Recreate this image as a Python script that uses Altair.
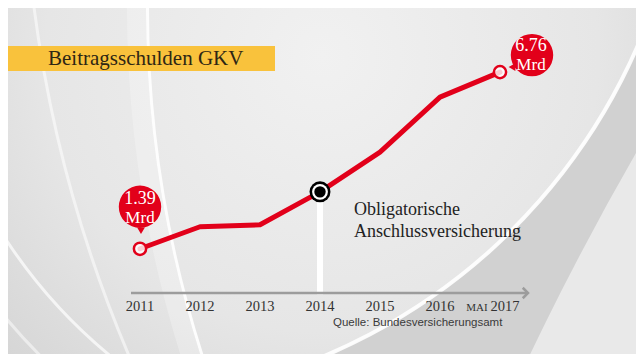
import altair as alt
import pandas as pd

# ---- data ----
years = [2011, 2012, 2013, 2014, 2015, 2016, 2017]
values = [1.39, 2.06, 2.12, 3.12, 4.33, 6.00, 6.76]
year_labels = ["2011", "2012", "2013", "2014", "2015", "2016", "2017"]
month_prefix = "MAI"
title_text = "Beitragsschulden GKV"
bubble_first = ["1.39", "Mrd"]
bubble_last = ["6.76", "Mrd"]
annotation = ["Obligatorische", "Anschlussversicherung"]
source_text = "Quelle: Bundesversicherungsamt"
event_year = 2014

df = pd.DataFrame({"year": years, "value": values, "label": year_labels})

W, H = 628, 346
RED = "#e2001a"
GRAY = "#9c9c9c"
SERIF = "'Liberation Serif', 'DejaVu Serif', serif"
SANS = "'Liberation Sans', 'DejaVu Sans', sans-serif"

xs = alt.Scale(domain=[2011, 2017], range=[132, 492])
ys = alt.Scale(domain=[0, 7], range=[286.5, 56.2])
X = alt.X("year:Q", scale=xs, axis=None)
Y = alt.Y("value:Q", scale=ys, axis=None)

one = alt.Data(values=[{}])
base = alt.Chart(df)

# ---- background ----
bg = alt.Chart(one).mark_rect(
    color=alt.Gradient(
        gradient="radial",
        stops=[
            alt.GradientStop(color="#f1f1f1", offset=0),
            alt.GradientStop(color="#e6e6e6", offset=0.55),
            alt.GradientStop(color="#cfcfcf", offset=1),
        ],
        x1=0.5, y1=0.3, r1=0, x2=0.5, y2=0.3, r2=0.8,
    )
).encode(x=alt.value(0), x2=alt.value(W), y=alt.value(0), y2=alt.value(H))

def arc(cx, cy, r, r2, t1, t2, color, op):
    return alt.Chart(one).mark_arc(color=color, opacity=op).encode(
        x=alt.value(cx), y=alt.value(cy),
        radius=alt.value(r), radius2=alt.value(r2),
        theta=alt.value(t1), theta2=alt.value(t2),
    )

decor = [
    # right gray band, the light region beyond it and the highlight edge
    arc(85.7, -198.3, 594, 1300, 1.80, 2.78, "#d1d1d1", 1),
    arc(3228, 1642, 0, 3000, 0, 6.2831, "#e9e9e9", 1),
    arc(85.7, -198.3, 591, 595, 1.80, 2.78, "white", 0.9),
    # left streaks
    arc(1291, -3, 1150, 1153, 4.40, 4.76, "white", 0.9),
    arc(1291, -3, 1153, 1172, 4.40, 4.76, "white", 0.25),
    arc(1355, -176, 1339, 1342, 4.25, 4.62, "white", 0.55),
    arc(440, -60, 528, 531, 3.75, 4.20, "white", 0.7),
    arc(440, -60, 575, 578, 3.75, 4.15, "white", 0.5),
]

# ---- title band ----
band = alt.Chart(one).mark_rect(color="#f9c23c").encode(
    x=alt.value(0), x2=alt.value(267), y=alt.value(38), y2=alt.value(63)
)
title = alt.Chart(one).mark_text(
    align="left", baseline="middle", font=SERIF, fontSize=21, color="#2e2614"
).encode(x=alt.value(40), y=alt.value(51), text=alt.value(title_text))

# ---- white event bar ----
event = base.transform_filter(alt.datum.year == event_year)
bar = event.mark_rule(color="white", strokeWidth=6).encode(x=X, y=Y, y2=alt.datum(0))

# ---- axis line with arrow ----
axis_line = alt.Chart(one).mark_rule(color=GRAY, strokeWidth=2.5).encode(
    x=alt.value(123), x2=alt.value(519), y=alt.value(285)
)
arrow = alt.Chart(one).mark_point(
    shape="M -1 -1 L 0 0 L -1 1", filled=False, stroke=GRAY, strokeWidth=2.5, size=110, opacity=1
).encode(x=alt.value(520), y=alt.value(285))

first = base.transform_filter(alt.datum.year == years[0])
last = base.transform_filter(alt.datum.year == years[-1])
not_last = base.transform_filter(alt.datum.year != years[-1])
ends = base.transform_filter((alt.datum.year == years[0]) | (alt.datum.year == years[-1]))

year_text = not_last.mark_text(font=SERIF, fontSize=14.5, color="#333333", baseline="middle").encode(
    x=X, y=alt.value(299), text="label:N"
)
year_last = last.mark_text(font=SERIF, fontSize=14.5, color="#333333", baseline="middle", dx=5).encode(
    x=X, y=alt.value(299), text="label:N"
)
mai_text = last.mark_text(
    font=SERIF, fontSize=11, color="#333333", baseline="middle", dx=-23, dy=1
).encode(x=X, y=alt.value(299), text=alt.value(month_prefix))

source = alt.Chart(one).mark_text(
    align="left", baseline="middle", font=SANS, fontSize=11.5, color="#3a3a3a"
).encode(x=alt.value(325), y=alt.value(315), text=alt.value(source_text))

# ---- line ----
line = base.mark_line(color=RED, strokeWidth=5, strokeJoin="round", strokeCap="round").encode(x=X, y=Y)

# ---- event marker ----
ev_outer = event.mark_point(shape="circle", filled=True, color="black", size=440, opacity=1).encode(x=X, y=Y)
ev_gap = event.mark_point(shape="circle", filled=True, color="white", size=250, opacity=1).encode(x=X, y=Y)
ev_inner = event.mark_point(shape="circle", filled=True, color="black", size=130, opacity=1).encode(x=X, y=Y)

annot = event.mark_text(
    align="left", baseline="top", font=SERIF, fontSize=18, color="#222222",
    dx=34, dy=9, lineHeight=22,
).encode(x=X, y=Y, text=alt.value(annotation))

# ---- end markers and bubbles ----
end_marks = ends.mark_point(
    shape="circle", filled=True, fill="white", fillOpacity=0.8, stroke=RED, strokeWidth=2.5, size=150, opacity=1
).encode(x=X, y=Y)

b1 = first.mark_point(shape="circle", filled=True, color=RED, size=1800, opacity=1, yOffset=-42).encode(x=X, y=Y)
b1p = first.mark_point(shape="triangle-down", filled=True, color=RED, size=60, opacity=1, xOffset=1, yOffset=-18).encode(x=X, y=Y)
b1t1 = first.mark_text(font=SERIF, fontSize=18, color="white", baseline="middle", dy=-50).encode(
    x=X, y=Y, text=alt.value(bubble_first[0]))
b1t2 = first.mark_text(font=SERIF, fontSize=17, color="white", baseline="middle", dy=-31).encode(
    x=X, y=Y, text=alt.value(bubble_first[1]))

b2 = last.mark_point(shape="circle", filled=True, color=RED, size=1800, opacity=1, xOffset=32, yOffset=-17).encode(x=X, y=Y)
b2p = last.mark_point(shape="triangle-left", filled=True, color=RED, size=60, opacity=1, xOffset=12, yOffset=-5).encode(x=X, y=Y)
b2t1 = last.mark_text(font=SERIF, fontSize=18, color="white", baseline="middle", dx=31, dy=-26).encode(
    x=X, y=Y, text=alt.value(bubble_last[0]))
b2t2 = last.mark_text(font=SERIF, fontSize=17, color="white", baseline="middle", dx=31, dy=-7).encode(
    x=X, y=Y, text=alt.value(bubble_last[1]))

chart = alt.layer(
    bg, *decor, band, title, bar, axis_line, arrow, year_text, year_last, mai_text, source,
    line, ev_outer, ev_gap, ev_inner, annot, end_marks,
    b1, b1p, b1t1, b1t2, b2, b2p, b2t1, b2t2,
).properties(
    width=W, height=H, padding=0, autosize=alt.AutoSizeParams(type="none")
).configure_view(stroke=None).configure(background="#e9e9e9")

chart.save("out.html", embed_options={"renderer": "svg", "actions": False})
